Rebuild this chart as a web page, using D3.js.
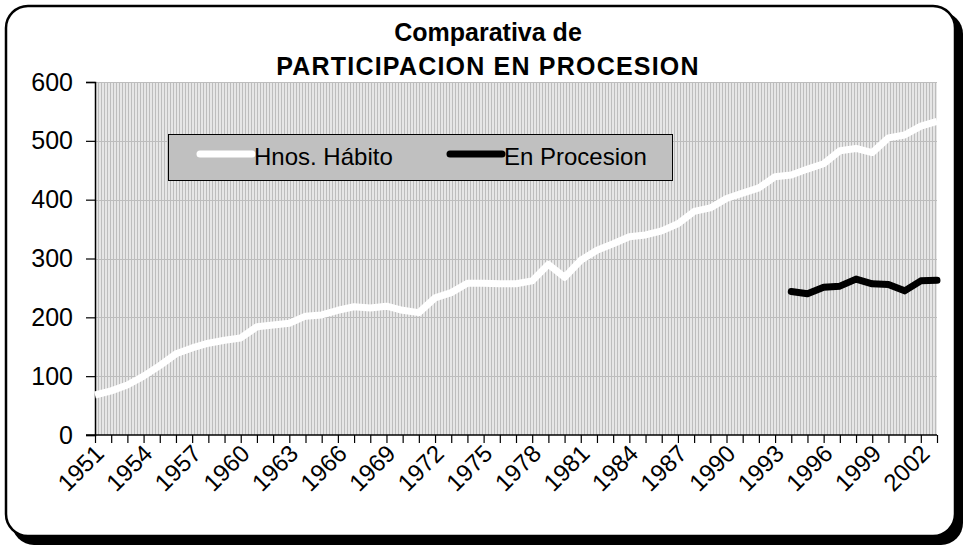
<!DOCTYPE html>
<html>
<head>
<meta charset="utf-8">
<script src="https://cdn.jsdelivr.net/npm/d3@7"></script>
<style>
  body { margin: 0; background: #fff; }
  text { font-family: "Liberation Sans", Arial, sans-serif; }
</style>
</head>
<body>
<div id="chart"></div>
<script>
// Data
const years = d3.range(1951, 2004).map(String);
const hnosHabito = [
    68, 75, 85, 100, 118, 138, 148, 156, 161, 165,
    184, 187, 190, 202, 204, 212, 218, 216, 219, 212,
    208, 233, 242, 258, 258, 257, 257, 262, 290, 268,
    297, 314, 325, 337, 340, 347, 359, 380, 386, 402,
    411, 420, 439, 442, 452, 461, 483, 487, 480, 505,
    510, 525, 533
];
const procesionYears = d3.range(1994, 2004).map(String);
const enProcesion = [244, 240, 251, 253, 265, 257, 256, 245, 262, 263];
const yTicks = [0, 100, 200, 300, 400, 500, 600];
const xLabelEvery = 3;
const titleLines = ["Comparativa de", "PARTICIPACION EN PROCESION"];
const legendItems = [
    { name: "Hnos. Hábito", color: "#ffffff" },
    { name: "En Procesion", color: "#000000" }
];

const width = 965;
const height = 547;
const plot = { left: 95, right: 937, top: 82, bottom: 435 };

const svg = d3.select("#chart")
    .append("svg")
    .attr("width", width)
    .attr("height", height);

// Vertical hatching for the plot background
const defs = svg.append("defs");
const pat = defs.append("pattern")
    .attr("id", "vstripes")
    .attr("patternUnits", "userSpaceOnUse")
    .attr("width", 3)
    .attr("height", 4);
pat.append("rect").attr("width", 3).attr("height", 4).attr("fill", "#e6e6e6");
pat.append("rect").attr("x", 2).attr("width", 1).attr("height", 4).attr("fill", "#bdbdbd");

// Chart frame with shadow
svg.append("rect")
    .attr("x", 12).attr("y", 12)
    .attr("width", 951).attr("height", 533)
    .attr("rx", 22)
    .attr("fill", "#000");
svg.append("rect")
    .attr("x", 6).attr("y", 6)
    .attr("width", 949).attr("height", 530)
    .attr("rx", 22)
    .attr("fill", "#fff")
    .attr("stroke", "#000")
    .attr("stroke-width", 2.5);

// Scales
const x = d3.scalePoint()
    .domain(years)
    .range([plot.left, plot.right]);

const y = d3.scaleLinear()
    .domain([0, 600])
    .range([plot.bottom, plot.top]);

// Plot area
svg.append("rect")
    .attr("x", plot.left)
    .attr("y", plot.top)
    .attr("width", plot.right - plot.left)
    .attr("height", plot.bottom - plot.top)
    .attr("fill", "url(#vstripes)");

// Gridlines
svg.append("g")
    .selectAll("line")
    .data(yTicks.filter(d => d > 0))
    .join("line")
    .attr("x1", plot.left)
    .attr("x2", plot.right)
    .attr("y1", d => Math.round(y(d)) + 0.5)
    .attr("y2", d => Math.round(y(d)) + 0.5)
    .attr("stroke", "#bdbdbd")
    .attr("stroke-width", 1);

// Y axis
const yAxis = svg.append("g")
    .attr("transform", `translate(${plot.left},0)`)
    .call(d3.axisLeft(y).tickValues(yTicks).tickSize(9).tickPadding(13));
yAxis.select(".domain").attr("stroke", "#000").attr("stroke-width", 1.5);
yAxis.selectAll(".tick line").attr("stroke", "#000").attr("stroke-width", 1.2);
yAxis.selectAll(".tick text")
    .attr("font-size", 25)
    .attr("fill", "#000")
    .style("font-family", "'Liberation Sans', Arial, sans-serif");

// X axis
const xAxis = svg.append("g")
    .attr("transform", `translate(0,${plot.bottom})`)
    .call(d3.axisBottom(x).tickSize(8).tickSizeOuter(0)
        .tickFormat((d, i) => i % xLabelEvery === 0 ? d : ""));
xAxis.select(".domain").attr("stroke", "#000").attr("stroke-width", 1.5)
    .attr("d", `M${plot.left - 9},0H${plot.right}`);
xAxis.selectAll(".tick line").attr("stroke", "#000").attr("stroke-width", 1.2);
xAxis.selectAll(".tick text")
    .attr("font-size", 24)
    .attr("fill", "#000")
    .attr("text-anchor", "end")
    .attr("y", 0)
    .attr("dy", "0.35em")
    .attr("transform", "translate(4,14) rotate(-45)")
    .style("font-family", "'Liberation Sans', Arial, sans-serif");

// Lines
const line = d3.line()
    .x(d => x(d[0]))
    .y(d => y(d[1]));

svg.append("path")
    .datum(d3.zip(years, hnosHabito))
    .attr("d", line)
    .attr("fill", "none")
    .attr("stroke", legendItems[0].color)
    .attr("stroke-width", 7)
    .attr("stroke-linejoin", "round");

svg.append("path")
    .datum(d3.zip(procesionYears, enProcesion))
    .attr("d", line)
    .attr("fill", "none")
    .attr("stroke", legendItems[1].color)
    .attr("stroke-width", 7)
    .attr("stroke-linejoin", "round")
    .attr("stroke-linecap", "round");

// Title
svg.append("g")
    .selectAll("text")
    .data(titleLines)
    .join("text")
    .attr("x", 488)
    .attr("y", (d, i) => 41 + i * 34)
    .attr("text-anchor", "middle")
    .attr("font-size", 25)
    .attr("font-weight", "bold")
    .attr("letter-spacing", (d, i) => i === 1 ? 1.2 : 0)
    .text(d => d);

// Legend
const legend = svg.append("g");
legend.append("rect")
    .attr("x", 168.5).attr("y", 134.5)
    .attr("width", 504).attr("height", 46)
    .attr("fill", "#c0c0c0")
    .attr("stroke", "#000")
    .attr("stroke-width", 1);

const legendX = [200, 450];
legendItems.forEach((item, i) => {
    legend.append("line")
        .attr("x1", legendX[i]).attr("x2", legendX[i] + 52)
        .attr("y1", 154).attr("y2", 154)
        .attr("stroke", item.color)
        .attr("stroke-width", 7)
        .attr("stroke-linecap", "round");
    legend.append("text")
        .attr("x", legendX[i] + 54)
        .attr("y", 165)
        .attr("font-size", 24)
        .text(item.name);
});
</script>
</body>
</html>
